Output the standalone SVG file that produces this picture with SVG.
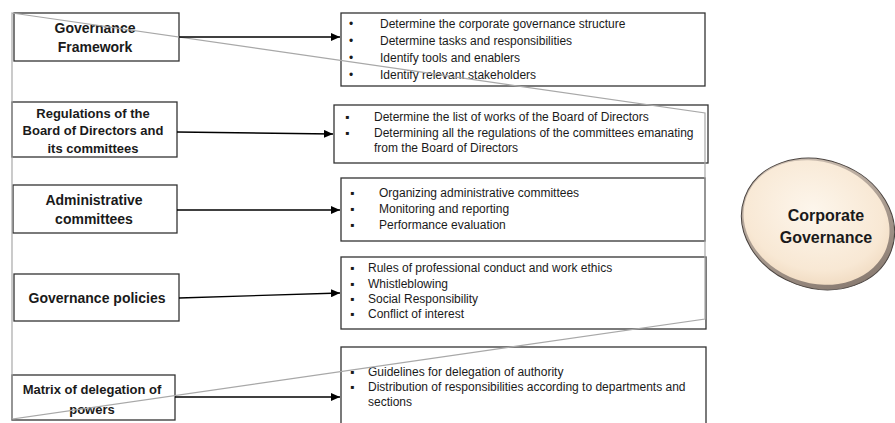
<svg xmlns="http://www.w3.org/2000/svg" width="895" height="423" viewBox="0 0 895 423">
<style>
.box{fill:#fff;stroke:#333;stroke-width:1.3}
.lbl{font-family:"Liberation Sans",Arial,sans-serif;font-weight:bold;fill:#1a1a1a;text-anchor:middle}
.itm{font-family:"Liberation Sans",Arial,sans-serif;font-size:12px;fill:#1a1a1a}
.conn{stroke:#000;stroke-width:1.3;fill:none;marker-end:url(#ah)}
.gray{stroke:#a8a8a8;stroke-width:1.2;fill:none}
</style>
<defs>
<marker id="ah" markerWidth="10" markerHeight="8" refX="9" refY="4" orient="auto" markerUnits="userSpaceOnUse">
<path d="M0,0 L9,4 L0,8 Z" fill="#000"/>
</marker>
<radialGradient id="eg" cx="0.45" cy="0.42" r="0.6">
<stop offset="0" stop-color="#fdf6ec"/>
<stop offset="0.8" stop-color="#f8e8d4"/>
<stop offset="1" stop-color="#f1dcc3"/>
</radialGradient>
<linearGradient id="rim" x1="0" y1="0" x2="1" y2="1">
<stop offset="0" stop-color="#d9cbbd"/>
<stop offset="1" stop-color="#7d6f66"/>
</linearGradient>
</defs>
<rect width="895" height="423" fill="#fff"/>

<g id="left-boxes">
<g id="n-governance-framework">
<rect class="box" x="14" y="13" width="165" height="48"/>
<text class="lbl" font-size="14" x="95" y="33">Governance</text>
<text class="lbl" font-size="14" x="95" y="52">Framework</text>
</g>
<g id="n-regulations">
<rect class="box" x="12" y="102" width="165" height="55"/>
<text class="lbl" font-size="13" x="93" y="118">Regulations of the</text>
<text class="lbl" font-size="13" x="93" y="135">Board of Directors and</text>
<text class="lbl" font-size="13" x="93" y="153">its committees</text>
</g>
<g id="n-administrative">
<rect class="box" x="13" y="185" width="164" height="48"/>
<text class="lbl" font-size="14" x="94" y="205">Administrative</text>
<text class="lbl" font-size="14" x="94" y="224">committees</text>
</g>
<g id="n-policies">
<rect class="box" x="14" y="274" width="165" height="47"/>
<text class="lbl" font-size="14" x="97" y="303">Governance policies</text>
</g>
<g id="n-matrix">
<rect class="box" x="12" y="375" width="163" height="45"/>
<text class="lbl" font-size="13" x="92" y="394">Matrix of delegation of</text>
<text class="lbl" font-size="13" x="92" y="414">powers</text>
</g>
</g>

<g id="right-boxes">
<g id="n-framework-items">
<rect class="box" x="341" y="13" width="364" height="73"/>
<text class="itm" x="349" y="28">•</text><text class="itm" x="380" y="28">Determine the corporate governance structure</text>
<text class="itm" x="349" y="45">•</text><text class="itm" x="380" y="45">Determine tasks and responsibilities</text>
<text class="itm" x="349" y="62">•</text><text class="itm" x="380" y="62">Identify tools and enablers</text>
<text class="itm" x="349" y="79">•</text><text class="itm" x="380" y="79">Identify relevant stakeholders</text>
</g>
<g id="n-regulations-items">
<rect class="box" x="334" y="105" width="374" height="58"/>
<text class="itm" x="345" y="121">▪</text><text class="itm" x="374" y="121">Determine the list of works of the Board of Directors</text>
<text class="itm" x="345" y="137">▪</text><text class="itm" x="374" y="137">Determining all the regulations of the committees emanating</text>
<text class="itm" x="374" y="152">from the Board of Directors</text>
</g>
<g id="n-administrative-items">
<rect class="box" x="341" y="178" width="364" height="63"/>
<text class="itm" x="350" y="197">▪</text><text class="itm" x="379" y="197">Organizing administrative committees</text>
<text class="itm" x="350" y="213">▪</text><text class="itm" x="379" y="213">Monitoring and reporting</text>
<text class="itm" x="350" y="229">▪</text><text class="itm" x="379" y="229">Performance evaluation</text>
</g>
<g id="n-policies-items">
<rect class="box" x="341" y="257" width="365" height="72"/>
<text class="itm" x="350" y="272">▪</text><text class="itm" x="368" y="272">Rules of professional conduct and work ethics</text>
<text class="itm" x="350" y="288">▪</text><text class="itm" x="368" y="288">Whistleblowing</text>
<text class="itm" x="350" y="303">▪</text><text class="itm" x="368" y="303">Social Responsibility</text>
<text class="itm" x="350" y="318">▪</text><text class="itm" x="368" y="318">Conflict of interest</text>
</g>
<g id="n-matrix-items">
<rect class="box" x="341" y="347" width="365" height="80"/>
<text class="itm" x="350" y="376">▪</text><text class="itm" x="368" y="376">Guidelines for delegation of authority</text>
<text class="itm" x="350" y="391">▪</text><text class="itm" x="368" y="391">Distribution of responsibilities according to departments and</text>
<text class="itm" x="368" y="406">sections</text>
</g>
</g>

<g id="n-corporate-governance">
<ellipse cx="818" cy="224" rx="78" ry="64" transform="rotate(20 818 224)" fill="url(#rim)" stroke="#4a433f" stroke-width="1"/>
<ellipse cx="816.5" cy="222.5" rx="74.5" ry="60.5" transform="rotate(20 816.5 222.5)" fill="url(#eg)"/>
<text class="lbl" font-size="16" x="826" y="221">Corporate</text>
<text class="lbl" font-size="16" x="826" y="243">Governance</text>
</g>

<g id="connectors">
<path class="gray" d="M12,13 L705,113 L705,319 L12,419 Z"/>
<line class="conn" x1="179" y1="37" x2="340" y2="37"/>
<line class="conn" x1="177" y1="132" x2="333" y2="134"/>
<line class="conn" x1="177" y1="210" x2="340" y2="210"/>
<line class="conn" x1="179" y1="298" x2="340" y2="293"/>
<line class="conn" x1="175" y1="397" x2="340" y2="397"/>
</g>
</svg>
